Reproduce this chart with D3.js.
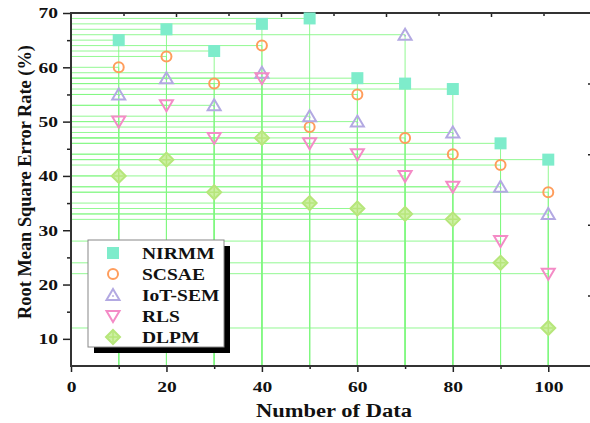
<!DOCTYPE html>
<html>
<head>
<meta charset="utf-8">
<script src="https://cdn.jsdelivr.net/npm/d3@7"></script>
<style>
  body { margin: 0; background: #fff; }
  text { font-family: "Liberation Serif", "Times New Roman", serif; font-weight: bold; }
</style>
</head>
<body>
<svg></svg>
<script>
const xValues = [10, 20, 30, 40, 50, 60, 70, 80, 90, 100];
const seriesNames = ['NIRMM', 'SCSAE', 'IoT-SEM', 'RLS', 'DLPM'];
const nirmm = [65, 67, 63, 68, 69, 58, 57, 56, 46, 43];
const scsae = [60, 62, 57, 64, 49, 55, 47, 44, 42, 37];
const iotSem = [55, 58, 53, 59, 51, 50, 66, 48, 38, 33];
const rls = [50, 53, 47, 58, 46, 44, 40, 38, 28, 22];
const dlpm = [40, 43, 37, 47, 35, 34, 33, 32, 24, 12];
const xTicks = [0, 20, 40, 60, 80, 100];
const yTicks = [10, 20, 30, 40, 50, 60, 70];

const svg = d3.select('svg')
	.attr('width', 590)
	.attr('height', 423);

const margin = { top: 13, left: 71 },
	plotRight = 596,
	plotBottom = 366,
	innerWidth = plotRight - margin.left,
	innerHeight = plotBottom - margin.top;

const xScale = d3.scaleLinear().domain([0, 110]).range([0, innerWidth]);
const yScale = d3.scaleLinear().domain([5, 70]).range([innerHeight, 0]);
// the top and right axes of the original are out of step with the data axes
const xTopScale = d3.scaleLinear().domain([0, 100]).range([0, innerWidth]);
const yRightScale = d3.scaleLinear().domain([0, 5]).range([innerHeight, 0]);

const colors = ['#7eeccb', '#ff9d5c', '#b3a9e2', '#f48bc6', '#b6e67a'];
const gridColor = '#80f880';

// the original text is stretched sideways
const stretch = (sel, k) => sel.each(function () {
	const w = this.getComputedTextLength();
	d3.select(this).attr('textLength', w * k).attr('lengthAdjust', 'spacingAndGlyphs');
});

const data = [nirmm, scsae, iotSem, rls, dlpm].map((vals, i) => ({
	name: seriesNames[i],
	color: colors[i],
	points: vals.map((v, j) => ({ x: xValues[j], y: v }))
}));

const g = svg.append('g')
	.attr('transform', `translate(${margin.left}, ${margin.top})`);

// drop lines
data.forEach(s => {
	g.selectAll(null).data(s.points).enter().append('line')
		.attr('x1', 0).attr('x2', d => xScale(d.x))
		.attr('y1', d => yScale(d.y)).attr('y2', d => yScale(d.y))
		.attr('stroke', gridColor).attr('stroke-width', 1).attr('opacity', 0.85);
	g.selectAll(null).data(s.points).enter().append('line')
		.attr('x1', d => xScale(d.x)).attr('x2', d => xScale(d.x))
		.attr('y1', d => yScale(d.y)).attr('y2', innerHeight)
		.attr('stroke', gridColor).attr('stroke-width', 1).attr('opacity', 0.85);
});

// axes
const xAxis = d3.axisBottom(xScale).tickValues(xTicks).tickSize(6).tickPadding(9);
const xMinor = d3.axisBottom(xScale).tickValues(d3.range(10, 111, 20)).tickSize(3).tickFormat('');
const yAxis = d3.axisLeft(yScale).tickValues(yTicks).tickSize(8).tickPadding(5);
const yMinor = d3.axisLeft(yScale).tickValues(d3.range(15, 70, 10)).tickSize(4).tickFormat('');

g.append('g').attr('transform', `translate(0, ${innerHeight})`).call(xAxis);
g.append('g').attr('transform', `translate(0, ${innerHeight})`).call(xMinor);
g.append('g').call(yAxis);
g.append('g').call(yMinor);

g.append('g').call(d3.axisTop(xTopScale).tickValues([20, 40, 60, 80]).tickSize(-4).tickFormat(''));
g.append('g').call(d3.axisTop(xTopScale).tickValues([10, 30, 50, 70, 90]).tickSize(-3).tickFormat(''));
g.append('g').attr('transform', `translate(${innerWidth}, 0)`)
	.call(d3.axisRight(yRightScale).tickValues([1, 2, 3, 4]).tickSize(-8).tickFormat(''));

g.selectAll('.domain').remove();
g.selectAll('.tick text').filter(function () { return this.textContent === ''; }).remove();
g.selectAll('.tick line').attr('stroke', '#222').attr('stroke-width', 1.5);
g.selectAll('.tick text').attr('fill', '#111').style('font-size', '15px').call(stretch, 1.3);

// frame
g.append('rect').attr('width', innerWidth).attr('height', innerHeight)
	.attr('fill', 'none').attr('stroke', '#333').attr('stroke-width', 2);

// markers
const drawMarker = (sel, i, color) => {
	if (i === 0) {
		sel.append('rect').attr('x', -6).attr('y', -6).attr('width', 12).attr('height', 12).attr('fill', color);
	} else if (i === 1) {
		sel.append('circle').attr('r', 5).attr('fill', 'none').attr('stroke', color).attr('stroke-width', 2);
	} else if (i === 2 || i === 3) {
		const dir = i === 2 ? 1 : -1;
		sel.append('path')
			.attr('d', `M0,${-6 * dir} L6.5,${5 * dir} L-6.5,${5 * dir} Z`)
			.attr('fill', 'none').attr('stroke', color).attr('stroke-width', 2);
		if (i === 2) sel.append('circle').attr('cy', 1).attr('r', 0.9).attr('fill', color);
	} else {
		sel.append('path').attr('d', 'M0,-7 L7,0 L0,7 L-7,0 Z')
			.attr('fill', '#cdf0a4').attr('stroke', color).attr('stroke-width', 2);
		sel.append('path').attr('d', 'M0,-5 V5 M-5,0 H5')
			.attr('stroke', color).attr('stroke-width', 1.5);
	}
};

data.forEach((s, i) => {
	g.selectAll(null).data(s.points).enter().append('g')
		.attr('transform', d => `translate(${xScale(d.x)}, ${yScale(d.y)})`)
		.each(function () { drawMarker(d3.select(this), i, s.color); });
});

// axis titles
svg.append('text')
	.attr('x', 334).attr('y', 417)
	.attr('text-anchor', 'middle')
	.style('font-size', '18px')
	.attr('fill', '#111')
	.text('Number of Data')
	.call(stretch, 1.25);

svg.append('text')
	.attr('transform', 'translate(31, 182) rotate(-90)')
	.attr('text-anchor', 'middle')
	.style('font-size', '18px')
	.attr('fill', '#111')
	.text('Root Mean Square Error Rate (%)')
	.call(stretch, 1.02);

// legend
const legend = svg.append('g').attr('transform', 'translate(88, 240)');
legend.append('rect').attr('x', 6).attr('y', 6).attr('width', 136).attr('height', 107).attr('fill', '#000');
legend.append('rect').attr('width', 136).attr('height', 107).attr('fill', '#fff')
	.attr('stroke', '#888').attr('stroke-width', 1);
seriesNames.forEach((name, i) => {
	const row = legend.append('g').attr('transform', `translate(25, ${13 + i * 21})`);
	drawMarker(row, i, colors[i]);
	row.append('text').attr('x', 29).attr('y', 6)
		.style('font-size', '16px').attr('fill', '#111').text(name)
		.call(stretch, 1.22);
});
</script>
</body>
</html>
